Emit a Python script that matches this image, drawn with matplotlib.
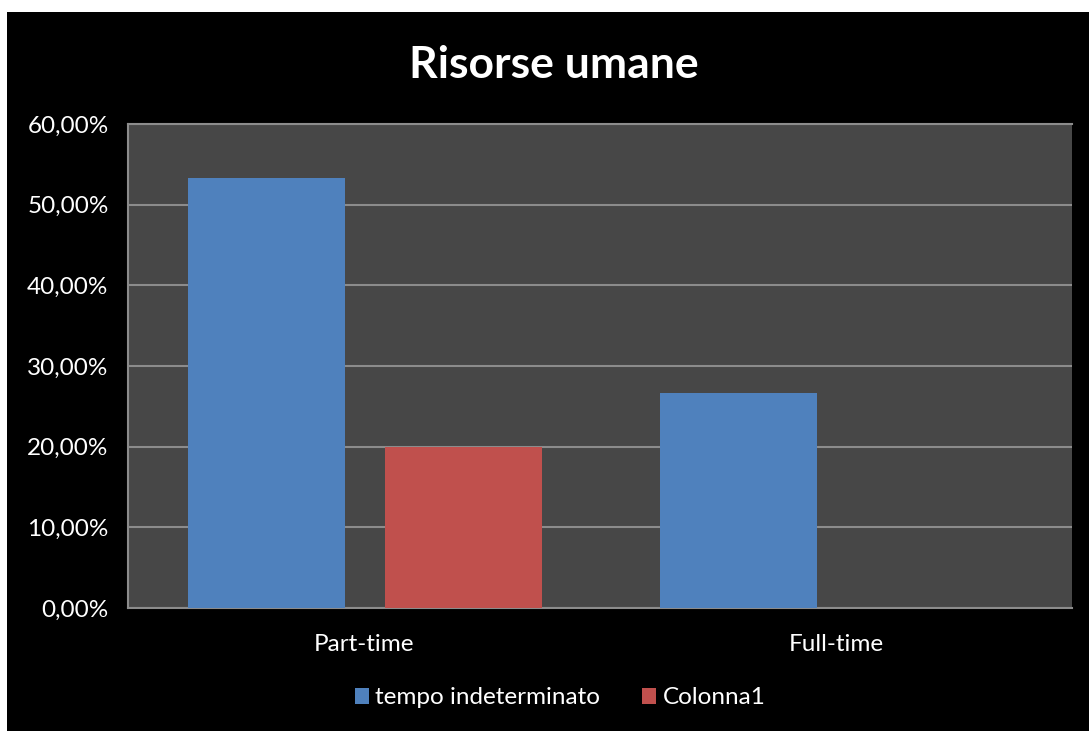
import numpy as np
import matplotlib
matplotlib.use("Agg")
import matplotlib.pyplot as plt
from matplotlib.patches import Rectangle
from matplotlib.ticker import FuncFormatter

categorie = ["Part-time", "Full-time"]
tempo_indeterminato = [53.33, 26.67]
colonna1 = [20.0, 0.0]
serie_nomi = ["tempo indeterminato", "Colonna1"]

plt.rcParams['font.family'] = ['Lato', 'DejaVu Sans']

fig = plt.figure(figsize=(10.89, 7.31), dpi=100, facecolor="white")
# area nera del grafico
fig.patches.append(Rectangle((7 / 1089, 0), 1 - 7 / 1089, 1 - 12 / 731,
                             transform=fig.transFigure, facecolor="black",
                             edgecolor="none", zorder=-10))

ax = fig.add_axes([128 / 1089, (731 - 608) / 731, (1072 - 128) / 1089, (608 - 124) / 731])
ax.set_facecolor("#474747")

x = np.arange(len(categorie))
w = 0.333
ax.bar(x - 0.207, tempo_indeterminato, w, color="#4f81bd", label=serie_nomi[0], zorder=3)
ax.bar(x + 0.21, colonna1, w, color="#c0504d", label=serie_nomi[1], zorder=3)

ax.set_xlim(-0.5, 1.5)
ax.set_ylim(0, 60)
ax.set_yticks(np.arange(0, 61, 10))
ax.yaxis.set_major_formatter(FuncFormatter(lambda v, p: f"{v:.2f}%".replace(".", ",")))
ax.set_xticks(x)
ax.set_xticklabels(categorie)
ax.tick_params(axis="both", colors="white", labelsize=17.5, length=0)
ax.tick_params(axis="y", pad=14)
ax.tick_params(axis="x", pad=19)
ax.grid(axis="y", color="#8c8c8c", linewidth=1.5, zorder=1)

for s in ["left", "top", "bottom"]:
    ax.spines[s].set_color("#8c8c8c")
    ax.spines[s].set_linewidth(1.5)
ax.spines["right"].set_visible(False)

fig.text(554 / 1089, 1 - 65 / 731, "Risorse umane", color="white", fontsize=32,
         fontweight="bold", ha="center", va="center")

leg = fig.legend(loc="center", bbox_to_anchor=(560 / 1089, 1 - 698 / 731), ncol=2,
                 frameon=False, fontsize=17.5, labelcolor="white", handlelength=0.6,
                 handleheight=0.6, handletextpad=0.25, columnspacing=1.7)

fig.savefig("out.png", dpi=100, facecolor=fig.get_facecolor())
